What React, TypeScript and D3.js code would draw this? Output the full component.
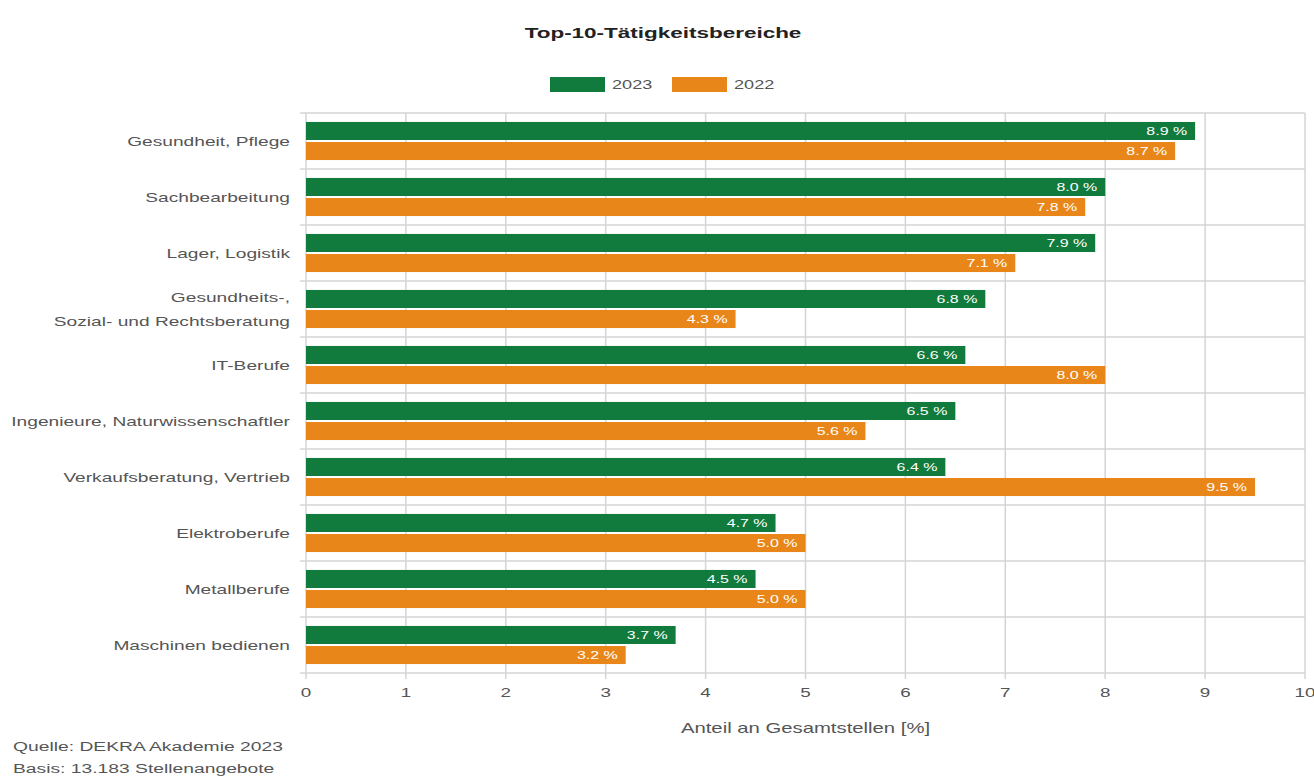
import React from "react";
import * as d3 from "d3";

const categories = [
  "Gesundheit, Pflege",
  "Sachbearbeitung",
  "Lager, Logistik",
  "Gesundheits-,|Sozial- und Rechtsberatung",
  "IT-Berufe",
  "Ingenieure, Naturwissenschaftler",
  "Verkaufsberatung, Vertrieb",
  "Elektroberufe",
  "Metallberufe",
  "Maschinen bedienen",
];
const values2023 = [8.9, 8.0, 7.9, 6.8, 6.6, 6.5, 6.4, 4.7, 4.5, 3.7];
const values2022 = [8.7, 7.8, 7.1, 4.3, 8.0, 5.6, 9.5, 5.0, 5.0, 3.2];
const seriesNames = ["2023", "2022"];
const seriesColors = ["#117a3d", "#e8861a"];
const xTicks = [0, 1, 2, 3, 4, 5, 6, 7, 8, 9, 10];

const W = 1314;
const H = 780;
const M = { left: 306, right: 1305, top: 113, bottom: 673 };
const FONT = "Liberation Sans, Arial, sans-serif";
const SX = 1.45;

type TProps = {
  x: number;
  y: number;
  size: number;
  anchor?: "start" | "middle" | "end";
  fill?: string;
  weight?: string;
  children: React.ReactNode;
};
function T({ x, y, size, anchor = "start", fill = "#555", weight = "normal", children }: TProps) {
  return (
    <g transform={`translate(${x},${y}) scale(${SX},1)`}>
      <text x={0} y={0} textAnchor={anchor} fontSize={size} fill={fill} fontWeight={weight}>
        {children}
      </text>
    </g>
  );
}

export default function App() {
  const x = d3.scaleLinear().domain([0, 10]).range([M.left, M.right]);
  const y = d3
    .scaleBand<string>()
    .domain(categories)
    .range([M.top, M.bottom])
    .paddingInner(0.32)
    .paddingOuter(0.16);
  const sub = d3
    .scaleBand<string>()
    .domain(seriesNames)
    .range([0, y.bandwidth()])
    .paddingInner(0.1);
  const step = y.step();
  const series = [values2023, values2022];
  const fmt = (v: number) => v.toFixed(1) + " %";

  return (
    <svg width={W} height={H} style={{ display: "block", position: "absolute", left: 0, top: 0 }} fontFamily={FONT}>
      <rect width={W} height={H} fill="#fff" />
      <T x={663} y={38} size={15.5} anchor="middle" fill="#222" weight="bold">
        Top-10-Tätigkeitsbereiche
      </T>
      {/* legend */}
      {seriesNames.map((s, i) => {
        const lx = 550 + i * 122;
        return (
          <g key={s}>
            <rect x={lx} y={77} width={55} height={15} fill={seriesColors[i]} />
            <T x={lx + 62} y={89} size={12.5}>
              {s}
            </T>
          </g>
        );
      })}
      {/* grid */}
      {xTicks.map((t) => (
        <line key={"v" + t} x1={x(t)} x2={x(t)} y1={M.top} y2={M.bottom + 6} stroke="#d4d4d4" strokeWidth={1.5} />
      ))}
      {d3.range(categories.length + 1).map((i) => (
        <line
          key={"h" + i}
          x1={M.left - 6}
          x2={M.right}
          y1={M.top + i * step}
          y2={M.top + i * step}
          stroke="#d4d4d4"
          strokeWidth={1.5}
        />
      ))}
      {/* bars */}
      {categories.map((c, ci) => (
        <g key={c}>
          {series.map((vals, si) => {
            const by = (y(c) as number) + (sub(seriesNames[si]) as number);
            const bh = sub.bandwidth();
            const v = vals[ci];
            return (
              <g key={si}>
                <rect x={x(0)} y={by} width={x(v) - x(0)} height={bh} fill={seriesColors[si]} />
                <T x={x(v) - 8} y={by + bh / 2 + 4} size={11} anchor="end" fill="#fff">
                  {fmt(v)}
                </T>
              </g>
            );
          })}
          {(() => {
            const lines = c.split("|");
            const cy = M.top + ci * step + step / 2;
            return lines.map((ln, li) => (
              <T key={li} x={290} y={cy + 5 + (li - (lines.length - 1) / 2) * 24} size={13.2} anchor="end">
                {ln}
              </T>
            ));
          })()}
        </g>
      ))}
      {/* x ticks */}
      {xTicks.map((t) => (
        <T key={"t" + t} x={x(t)} y={697} size={13} anchor="middle">
          {t}
        </T>
      ))}
      <T x={(M.left + M.right) / 2} y={733} size={14} anchor="middle">
        Anteil an Gesamtstellen [%]
      </T>
      <T x={13} y={751} size={13.3}>
        Quelle: DEKRA Akademie 2023
      </T>
      <T x={13} y={773} size={13.3}>
        Basis: 13.183 Stellenangebote
      </T>
    </svg>
  );
}
